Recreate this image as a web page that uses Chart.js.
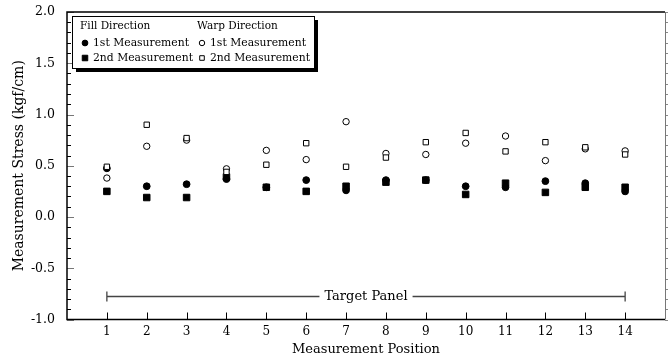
<!DOCTYPE html>
<html>
<head>
<meta charset="utf-8">
<title>Measurement Stress</title>
<script src="https://cdn.jsdelivr.net/npm/chart.js@4.4.1/dist/chart.umd.min.js"></script>
<style>
  html, body { margin: 0; padding: 0; background: #fff; }
  #stressChart { display: block; }
</style>
</head>
<body>
<canvas id="stressChart" width="672" height="358"></canvas>
<script>
// --- Data: stress per measurement position (kgf/cm) ---
const positions = [1, 2, 3, 4, 5, 6, 7, 8, 9, 10, 11, 12, 13, 14];
const fill1st = [0.475, 0.30, 0.32, 0.37, 0.29, 0.36, 0.26, 0.36, 0.36, 0.30, 0.29, 0.35, 0.33, 0.25];
const fill2nd = [0.25, 0.19, 0.19, 0.39, 0.29, 0.25, 0.30, 0.34, 0.36, 0.22, 0.33, 0.24, 0.29, 0.29];
const warp1st = [0.38, 0.69, 0.75, 0.47, 0.65, 0.56, 0.93, 0.62, 0.61, 0.72, 0.79, 0.55, 0.665, 0.645];
const warp2nd = [0.49, 0.90, 0.77, 0.44, 0.51, 0.72, 0.49, 0.58, 0.73, 0.82, 0.64, 0.73, 0.68, 0.61];

// Tick values and axis ranges
const xTickLabels = [1, 2, 3, 4, 5, 6, 7, 8, 9, 10, 11, 12, 13, 14];
const yMajorStep = 0.5;
const yMinorStep = 0.1;

// "Target Panel" span along the x axis
const panelStart = 1;
const panelEnd = 14;
const panelLevel = -0.77;
const panelLabel = 'Target Panel';

const FONT = "'DejaVu Serif', 'Liberation Serif', serif";

function toPoints(values) {
    return values.map((v, i) => ({ x: positions[i], y: v }));
}

const datasets = [
    { label: '1st Measurement', group: 'Fill Direction', data: toPoints(fill1st),
      pointStyle: 'circle', pointRadius: 3.4, backgroundColor: '#000', borderColor: '#000', borderWidth: 1, order: 4 },
    { label: '2nd Measurement', group: 'Fill Direction', data: toPoints(fill2nd),
      pointStyle: 'rect', pointRadius: 4.6, backgroundColor: '#000', borderColor: '#000', borderWidth: 1, order: 3 },
    { label: '1st Measurement', group: 'Warp Direction', data: toPoints(warp1st),
      pointStyle: 'circle', pointRadius: 3.2, backgroundColor: '#fff', borderColor: '#000', borderWidth: 1, order: 2 },
    { label: '2nd Measurement', group: 'Warp Direction', data: toPoints(warp2nd),
      pointStyle: 'rect', pointRadius: 3.8, backgroundColor: '#fff', borderColor: '#000', borderWidth: 1, order: 1 }
];

// Frame, inner tick marks and the target panel bracket
const framePlugin = {
    id: 'frame',
    beforeDatasetsDraw(chart) {
        const { ctx, chartArea: a, scales: { x, y } } = chart;
        ctx.save();
        ctx.lineWidth = 1;

        // y ticks (inside, left) and mirrored ticks on the right edge
        const nSteps = Math.round((y.max - y.min) / yMinorStep);
        for (let i = 0; i <= nSteps; i++) {
            const v = y.min + i * yMinorStep;
            const py = Math.round(y.getPixelForValue(v)) + 0.5;
            const major = Math.abs(v / yMajorStep - Math.round(v / yMajorStep)) < 1e-6;
            ctx.strokeStyle = major ? '#777' : '#000';
            ctx.beginPath();
            ctx.moveTo(a.left, py);
            ctx.lineTo(a.left + (major ? 7 : 4), py);
            ctx.stroke();
            ctx.strokeStyle = '#888';
            ctx.beginPath();
            ctx.moveTo(a.right, py);
            ctx.lineTo(a.right + 3, py);
            ctx.stroke();
        }

        // x ticks (inside, bottom)
        ctx.strokeStyle = '#000';
        xTickLabels.forEach(v => {
            const px = Math.round(x.getPixelForValue(v)) + 0.5;
            ctx.beginPath();
            ctx.moveTo(px, a.bottom);
            ctx.lineTo(px, a.bottom - 7);
            ctx.stroke();
        });

        // frame
        ctx.strokeStyle = '#000';
        ctx.lineWidth = 1.5;
        ctx.beginPath();
        ctx.moveTo(a.right, a.top);
        ctx.lineTo(a.left, a.top);
        ctx.lineTo(a.left, a.bottom);
        ctx.lineTo(a.right, a.bottom);
        ctx.stroke();
        ctx.strokeStyle = '#777';
        ctx.lineWidth = 1;
        ctx.beginPath();
        ctx.moveTo(Math.round(a.right) + 0.5, a.top);
        ctx.lineTo(Math.round(a.right) + 0.5, a.bottom);
        ctx.stroke();

        // target panel bracket with centred label
        const x0 = x.getPixelForValue(panelStart);
        const x1 = x.getPixelForValue(panelEnd);
        const py = Math.round(y.getPixelForValue(panelLevel)) + 0.5;
        const mid = x.getPixelForValue((panelStart + panelEnd) / 2);
        ctx.font = '13px ' + FONT;
        const half = ctx.measureText(panelLabel).width / 2 + 5;
        ctx.strokeStyle = '#444';
        ctx.lineWidth = 1.3;
        ctx.beginPath();
        ctx.moveTo(x0, py); ctx.lineTo(mid - half, py);
        ctx.moveTo(mid + half, py); ctx.lineTo(x1, py);
        ctx.moveTo(x0, py - 5); ctx.lineTo(x0, py + 5);
        ctx.moveTo(x1, py - 5); ctx.lineTo(x1, py + 5);
        ctx.stroke();
        ctx.fillStyle = '#000';
        ctx.textAlign = 'center';
        ctx.textBaseline = 'middle';
        ctx.fillText(panelLabel, mid, py);
        ctx.restore();
    }
};

// Two-column legend box with drop shadow
const legendPlugin = {
    id: 'boxLegend',
    afterDraw(chart) {
        const { ctx } = chart;
        const bx = 72, by = 16, bw = 242, bh = 52;
        ctx.save();
        ctx.fillStyle = '#000';
        ctx.fillRect(bx + 4, by + 4, bw, bh);
        ctx.fillStyle = '#fff';
        ctx.fillRect(bx, by, bw, bh);
        ctx.strokeStyle = '#000';
        ctx.lineWidth = 1;
        ctx.strokeRect(bx + 0.5, by + 0.5, bw, bh);

        const cols = [{ group: 'Fill Direction', x: 80 }, { group: 'Warp Direction', x: 197 }];
        ctx.fillStyle = '#000';
        ctx.textBaseline = 'middle';
        ctx.textAlign = 'left';
        cols.forEach(col => {
            ctx.font = '10.5px ' + FONT;
            ctx.fillText(col.group, col.x, by + 10);
            chart.data.datasets
                .filter(ds => ds.group === col.group)
                .forEach((ds, row) => {
                    const cy = by + 27 + row * 15;
                    ctx.fillStyle = ds.backgroundColor;
                    ctx.strokeStyle = ds.borderColor;
                    ctx.lineWidth = ds.borderWidth;
                    Chart.helpers.drawPoint(ctx, {
                        pointStyle: ds.pointStyle,
                        radius: ds.pointRadius * 0.85,
                        rotation: 0,
                        borderWidth: ds.borderWidth
                    }, col.x + 5, cy);
                    ctx.fillStyle = '#000';
                    ctx.font = '10.8px ' + FONT;
                    ctx.fillText(ds.label, col.x + 13, cy);
                });
        });
        ctx.restore();
    }
};

new Chart(document.getElementById('stressChart').getContext('2d'), {
    type: 'scatter',
    data: { datasets: datasets },
    options: {
        responsive: false,
        animation: false,
        devicePixelRatio: 1,
        layout: { padding: { top: 12, right: 7, left: 0, bottom: 0 } },
        plugins: {
            legend: { display: false },
            tooltip: { enabled: false }
        },
        scales: {
            x: {
                type: 'linear',
                min: 0,
                max: 15,
                afterFit: s => {
                    s.height = 38.5;
                    s.paddingLeft = 0;
                    s.paddingRight = 0;
                },
                grid: { display: false, drawTicks: false },
                border: { display: false },
                ticks: {
                    stepSize: 1,
                    autoSkip: false,
                    maxRotation: 0,
                    padding: 5,
                    color: '#000',
                    font: { family: FONT, size: 12 },
                    callback: v => xTickLabels.includes(v) ? String(v) : ''
                },
                title: {
                    display: true,
                    text: 'Measurement Position',
                    color: '#000',
                    font: { family: FONT, size: 13 },
                    padding: { top: 0, bottom: 1 }
                }
            },
            y: {
                min: -1,
                max: 2,
                afterFit: s => {
                    s.width = 67;
                    s.paddingTop = 0;
                    s.paddingBottom = 0;
                },
                grid: { display: false, drawTicks: false },
                border: { display: false },
                ticks: {
                    stepSize: yMajorStep,
                    padding: 12,
                    color: '#000',
                    font: { family: FONT, size: 12.5 },
                    callback: v => v.toFixed(1)
                },
                title: {
                    display: true,
                    text: 'Measurement Stress (kgf/cm)',
                    color: '#000',
                    font: { family: FONT, size: 14 },
                    padding: { top: 11, bottom: 0 }
                }
            }
        }
    },
    plugins: [framePlugin, legendPlugin]
});
</script>
</body>
</html>
